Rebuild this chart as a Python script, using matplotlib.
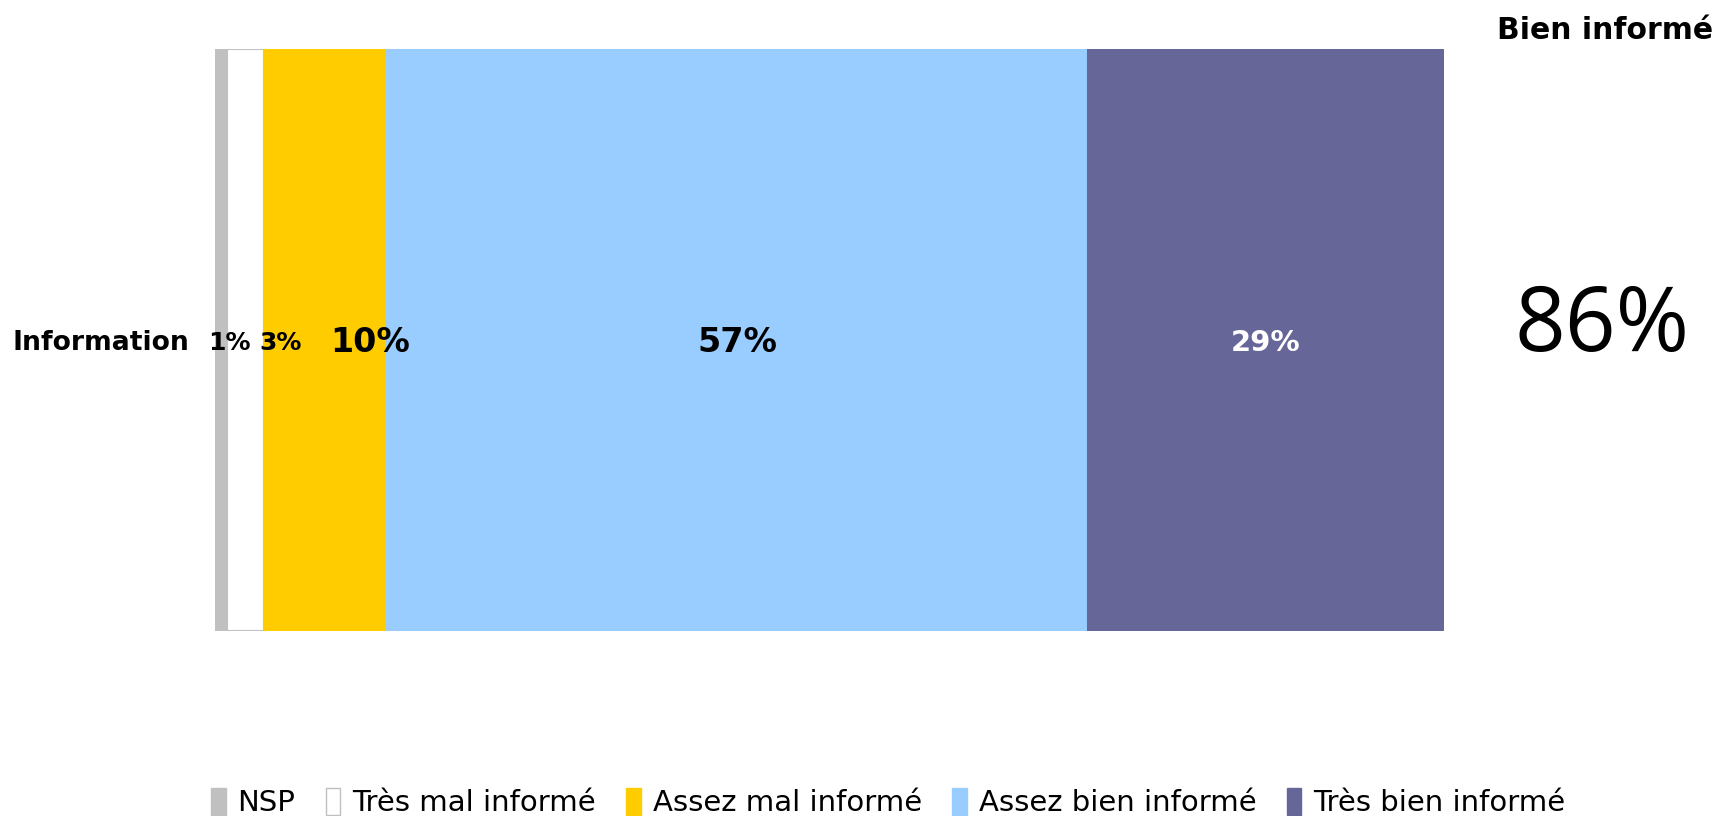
import matplotlib.pyplot as plt
import numpy as np
from matplotlib.patches import Patch

categorie = ["Information"]
series = ["NSP", "Très mal informé", "Assez mal informé", "Assez bien informé", "Très bien informé"]
valeurs = [1, 3, 10, 57, 29]
couleurs = ["#C0C0C0", "#FFFFFF", "#FFCC00", "#99CCFF", "#666699"]
bords = ["#C0C0C0", "#C0C0C0", "#FFCC00", "#99CCFF", "#666699"]
couleurs_txt = ["black", "black", "black", "black", "white"]
tailles_txt = [18, 18, 24, 24, 21]
decalages = [6, 25, 32, 0, 0]
total_bien = 86

plt.rcParams['font.family'] = ['DejaVu Sans']

fig = plt.figure(figsize=(17.18, 8.16), dpi=100)
ax = fig.add_axes([0.125, 0.2267, 0.7155, 0.7133])

gauche = 0
for i in range(len(valeurs)):
    ax.barh(0, valeurs[i], left=gauche, height=1.0, color=couleurs[i],
            edgecolor=bords[i], linewidth=1.5)
    ax.annotate(f"{valeurs[i]}%", (gauche + valeurs[i] / 2, 0), xytext=(decalages[i], -2),
                textcoords="offset points", ha="center", va="center",
                fontsize=tailles_txt[i], fontweight="bold", color=couleurs_txt[i])
    gauche += valeurs[i]

ax.set_xlim(0, 100)
ax.set_ylim(-0.5, 0.5)
ax.set_yticks([0])
ax.set_yticklabels(categorie, fontsize=19.2, fontweight="bold")
ax.tick_params(axis="y", length=0, pad=18)
ax.set_xticks([])
for s in ax.spines.values():
    s.set_visible(False)

fig.text(0.997, 0.963, "Bien informé", ha="right", va="center", fontsize=21.5, fontweight="bold")
fig.text(0.9325, 0.598, f"{total_bien}%", ha="center", va="center", fontsize=64,
         family=["Open Sans", "DejaVu Sans"])

poignees = [Patch(facecolor=couleurs[i], edgecolor=bords[i]) for i in range(len(series))]
fig.legend(poignees, series, loc="center", bbox_to_anchor=(0.517, 0.016), ncol=5, frameon=False,
           prop={"size": 21}, handlelength=0.5, handleheight=1.0,
           handletextpad=0.4, columnspacing=1.05)

fig.savefig("out.png", dpi=100)
